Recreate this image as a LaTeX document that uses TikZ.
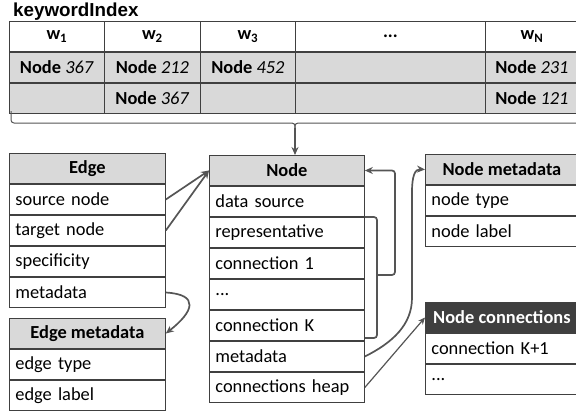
\documentclass[tikz,border=0pt]{standalone}
\usepackage{fontspec}
\setmainfont{Carlito}
\newfontfamily\titlefont{Liberation Sans}
\usetikzlibrary{arrows.meta,calc}
\definecolor{boxc}{HTML}{404040}
\definecolor{hdc}{HTML}{D9D9D9}
\definecolor{arrc}{HTML}{555555}
\definecolor{darkc}{HTML}{3F3F3F}
\begin{document}
\begin{tikzpicture}[x=1pt,y=-1pt,
  box/.style={draw=boxc, line width=0.8pt, inner ysep=0pt, anchor=north west,
    font=\fontsize{18.4}{20}\selectfont},
  hd/.style={box, fill=hdc, minimum width=#1, minimum height=30.2pt, inner xsep=0pt, font=\fontsize{18.4}{20}\selectfont\bfseries},
  rw/.style={box, text width=#1, align=left, inner xsep=6pt, minimum height=30.2pt},
  kh/.style={box, minimum width=#1, minimum height=30pt, inner xsep=0pt, font=\fontsize{18.4}{20}\selectfont\bfseries},
  kr/.style={kh=#1, fill=hdc},
  arr/.style={draw=arrc, line width=1.7pt, -{Stealth[length=8pt,width=7pt]}},
  thinarr/.style={draw=arrc, line width=1.2pt, -{Stealth[length=7pt,width=6pt]}},
  brline/.style={draw=arrc, line width=1pt}
]
\useasboundingbox (0,0) rectangle (576,412);
\clip (0,0) rectangle (576,412);

% title
\node[anchor=base west, inner sep=0pt, font=\titlefont\bfseries\fontsize{18.8}{20}\selectfont] (title) at (13,16.5) {keywordIndex};

% keyword table
\node[kh=95]  (k11) at (9,21)   {w\textsubscript{1}};
\node[kh=96]  (k12) at (104,21) {w\textsubscript{2}};
\node[kh=95]  (k13) at (200,21) {w\textsubscript{3}};
\node[kh=190] (k14) at (295,21) {...};
\node[kh=93]  (k15) at (485,21) {w\textsubscript{N}};
\node[kr=95]  (k21) at (k11.south west) {Node \textmd{\itshape 367}};
\node[kr=96]  (k22) at (k12.south west) {Node \textmd{\itshape 212}};
\node[kr=95]  (k23) at (k13.south west) {Node \textmd{\itshape 452}};
\node[kr=190] (k24) at (k14.south west) {};
\node[kr=93]  (k25) at (k15.south west) {Node \textmd{\itshape 231}};
\node[kr=95]  (k31) at (k21.south west) {};
\node[kr=96]  (k32) at (k22.south west) {Node \textmd{\itshape 367}};
\node[kr=95]  (k33) at (k23.south west) {};
\node[kr=190] (k34) at (k24.south west) {};
\node[kr=93]  (k35) at (k25.south west) {Node \textmd{\itshape 121}};

% bracket under keyword table
\coordinate (brk) at (295,128);
\draw[brline, rounded corners=3pt] (11,111) |- (292,123);
\draw[brline] (292,123) .. controls (294,123) and (295,124) .. (brk);
\draw[brline] (578,123) -- (298,123) .. controls (296,123) and (295,124) .. (brk);

% Edge table
\node[hd=156] (ehead) at (9,153) {Edge};
\node[rw=144] (e1) at (ehead.south west) {source node};
\node[rw=144] (e2) at (e1.south west) {target node};
\node[rw=144] (e3) at (e2.south west) {specificity};
\node[rw=144] (e4) at (e3.south west) {metadata};

% Edge metadata
\node[hd=156] (emhead) at (9,318) {Edge metadata};
\node[rw=144] (em1) at (emhead.south west) {edge type};
\node[rw=144] (em2) at (em1.south west) {edge label};

% Node table
\node[hd=155] (nhead) at (209,155) {Node};
\node[rw=143] (n1) at (nhead.south west) {data source};
\node[rw=143] (n2) at (n1.south west) {representative};
\node[rw=143] (n3) at (n2.south west) {connection 1};
\node[rw=143] (n4) at (n3.south west) {...};
\node[rw=143] (n5) at (n4.south west) {connection K};
\node[rw=143] (n6) at (n5.south west) {metadata};
\node[rw=143] (n7) at (n6.south west) {connections heap};

% Node metadata
\node[hd=153] (nmhead) at (425,154) {Node metadata};
\node[rw=141] (nm1) at (nmhead.south west) {node type};
\node[rw=141] (nm2) at (nm1.south west) {node label};

% Node connections
\node[hd=153, fill=darkc, text=white] (nchead) at (425,302) {Node connections};
\node[rw=141] (nc1) at (nchead.south west) {connection K+1};
\node[rw=141] (nc2) at (nc1.south west) {...};

% connectors
\draw[arr] (brk) -- (brk |- nhead.north);
\draw[arr] (e1.east) -- (nhead.west);
\draw[arr] (e2.east) -- (nhead.west);
\draw[arr] (e4.east) .. controls +(34,2) and +(28,-22) .. (emhead.east);

\coordinate (bx) at (377,275);
\draw[brline, line width=1.7pt, rounded corners=3pt] (n1.south east) -| (bx) |- ($(n5.south east)+(0,-3)$);
\draw[arr, rounded corners=3pt] (bx) -- ++(18,0) |- (nhead.east);

\draw[arr] (n6.east) .. controls (392,343) and (412,325) .. (412,298)
  -- (412,192) .. controls (412,176) and (415,169) .. (nmhead.west);
\draw[thinarr] (n7.east) -- (nchead.west);
\end{tikzpicture}
\end{document}
